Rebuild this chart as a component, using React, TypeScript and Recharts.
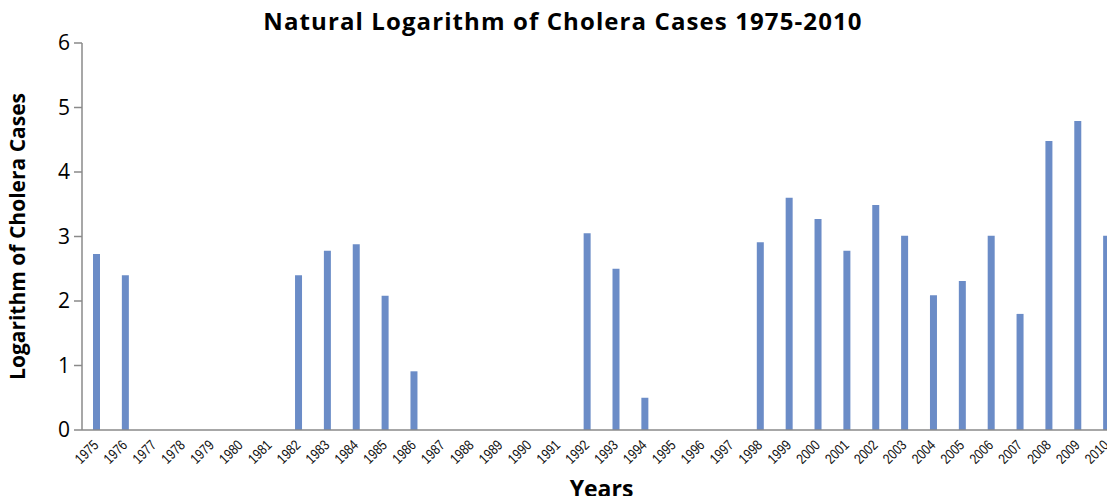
import React from "react";
import { BarChart, Bar, XAxis, YAxis, Label } from "recharts";

const YEARS = [
  "1975", "1976", "1977", "1978", "1979", "1980", "1981", "1982", "1983",
  "1984", "1985", "1986", "1987", "1988", "1989", "1990", "1991", "1992",
  "1993", "1994", "1995", "1996", "1997", "1998", "1999", "2000", "2001",
  "2002", "2003", "2004", "2005", "2006", "2007", "2008", "2009", "2010",
];

// ln(cases), null where no bar is drawn
const LN_CASES = [
  2.73, 2.4, null, null, null, null, null, 2.4, 2.78,
  2.88, 2.08, 0.91, null, null, null, null, null, 3.05,
  2.5, 0.5, null, null, null, 2.91, 3.6, 3.27, 2.78,
  3.49, 3.01, 2.09, 2.31, 3.01, 1.8, 4.48, 4.79, 3.01,
];

const Y_TICKS = [0, 1, 2, 3, 4, 5, 6];

const data = YEARS.map((year, i) => ({ year, value: LN_CASES[i] }));

const AXIS_GRAY = "#8a8a8a";
const BAR_COLOR = "#6b8cc7";
const MYRIAD = "'Open Sans', 'Noto Sans', sans-serif";

// narrow-looking rotated year labels
function YearTick(props: any) {
  const { x, y, payload } = props;
  const px = x + 3;
  const py = y + 16;
  return (
    <text
      x={0}
      y={0}
      transform={`translate(${px},${py}) rotate(-45) scale(0.82,1)`}
      textAnchor="end"
      fontSize={14.5}
      fontFamily="'Liberation Sans', Arial, sans-serif"
      fill="#111"
    >
      {payload.value}
    </text>
  );
}

export default function App() {
  return (
    <div
      style={{
        margin: -8,
        width: 1115,
        height: 504,
        overflow: "hidden",
        position: "relative",
        background: "#fff",
      }}
    >
      <div
        style={{
          position: "absolute",
          left: 0,
          top: 3,
          width: 1126,
          textAlign: "center",
          fontFamily: MYRIAD,
          fontWeight: 700,
          fontSize: 24,
          letterSpacing: 1.1,
          color: "#000",
          lineHeight: "36px",
        }}
      >
        Natural Logarithm of Cholera Cases 1975-2010
      </div>
      <BarChart
        width={1130}
        height={504}
        data={data}
        margin={{ top: 43, right: 9, left: 0, bottom: 0 }}
        barCategoryGap={0}
      >
        <XAxis
          dataKey="year"
          interval={0}
          tick={<YearTick />}
          tickLine={false}
          tickSize={0}
          tickMargin={0}
          axisLine={{ stroke: AXIS_GRAY, strokeWidth: 1.5 }}
          height={74}
        >
          <Label
            value="Years"
            position="insideBottom"
            offset={7}
            style={{ fontFamily: MYRIAD, fontWeight: 700, fontSize: 23, fill: "#000" }}
          />
        </XAxis>
        <YAxis
          domain={[0, 6]}
          ticks={Y_TICKS}
          width={82}
          tickSize={8}
          tickMargin={4}
          tickLine={{ stroke: AXIS_GRAY, strokeWidth: 1.5 }}
          axisLine={{ stroke: AXIS_GRAY, strokeWidth: 1.5 }}
          tick={{ fontSize: 21, fill: "#000", fontFamily: MYRIAD }}
        >
          <Label
            value="Logarithm of Cholera Cases"
            angle={-90}
            position="insideLeft"
            offset={18}
            style={{
              textAnchor: "middle",
              fontFamily: MYRIAD,
              fontWeight: 700,
              fontSize: 21,
              fill: "#000",
            }}
          />
        </YAxis>
        <Bar dataKey="value" fill={BAR_COLOR} barSize={7} isAnimationActive={false} />
      </BarChart>
    </div>
  );
}
